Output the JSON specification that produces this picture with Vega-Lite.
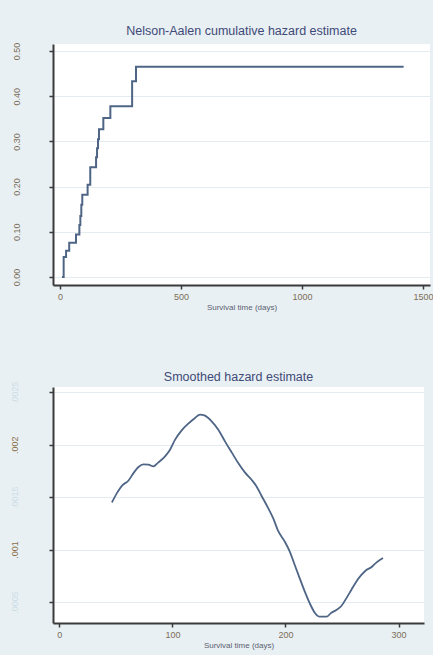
{
  "$schema": "https://vega.github.io/schema/vega-lite/v6.json",
  "background": "#e9f0f3",
  "padding": {"left": 9, "top": 24, "right": 0, "bottom": 6},
  "spacing": 60,
  "config": {
    "view": {"stroke": null, "fill": "white"},
    "font": "Liberation Sans",
    "axis": {
      "domainColor": "#3a3a3a",
      "domainWidth": 2,
      "tickColor": "#3a3a3a",
      "tickWidth": 1.5,
      "tickSize": 4,
      "labelColor": "#7a6e58",
      "labelFontSize": 9,
      "labelFlush": false,
      "titleFontSize": 8,
      "titleFontWeight": "normal",
      "titleColor": "#5a5e70",
      "gridColor": "#e2ecf1",
      "gridWidth": 1
    },
    "title": {"fontSize": 12.5, "fontWeight": "normal", "color": "#3e4a78", "offset": 5, "frame": "group"}
  },
  "vconcat": [
    {
      "title": "Nelson-Aalen cumulative hazard estimate",
      "width": 377,
      "height": 241,
      "data": {"values": [
        {"time": 8, "hazard": 0},
        {"time": 15, "hazard": 0.044},
        {"time": 25, "hazard": 0.058},
        {"time": 38, "hazard": 0.076},
        {"time": 66, "hazard": 0.094},
        {"time": 80, "hazard": 0.115},
        {"time": 84, "hazard": 0.135},
        {"time": 88, "hazard": 0.16},
        {"time": 92, "hazard": 0.182},
        {"time": 114, "hazard": 0.204},
        {"time": 125, "hazard": 0.243},
        {"time": 149, "hazard": 0.265},
        {"time": 153, "hazard": 0.285},
        {"time": 157, "hazard": 0.305},
        {"time": 161, "hazard": 0.327},
        {"time": 179, "hazard": 0.352},
        {"time": 208, "hazard": 0.378},
        {"time": 298, "hazard": 0.433},
        {"time": 314, "hazard": 0.465},
        {"time": 1420, "hazard": 0.465}
      ]},
      "mark": {"type": "line", "interpolate": "step-after", "color": "#4f6586", "strokeWidth": 2},
      "encoding": {
        "x": {
          "field": "time", "type": "quantitative",
          "scale": {"domain": [-29, 1529], "nice": false, "zero": false},
          "axis": {"values": [0, 500, 1000, 1500], "format": "d", "title": "Survival time (days)", "grid": false, "labelPadding": 3, "titlePadding": 2}
        },
        "y": {
          "field": "hazard", "type": "quantitative",
          "scale": {"domain": [-0.0177, 0.5155], "nice": false, "zero": false},
          "axis": {"values": [0, 0.1, 0.2, 0.3, 0.4, 0.5], "format": ".2f", "title": null, "labelAngle": 270, "labelAlign": "center", "labelBaseline": "bottom", "labelPadding": 28}
        }
      }
    },
    {
      "title": {"text": "Smoothed hazard estimate", "offset": -3},
      "width": 371,
      "height": 236,
      "data": {"values": [
        {"time": 46.5, "hazard": 0.001449},
        {"time": 50.9, "hazard": 0.001538},
        {"time": 55.3, "hazard": 0.001608},
        {"time": 61.2, "hazard": 0.001659},
        {"time": 65.6, "hazard": 0.001729},
        {"time": 70.0, "hazard": 0.001787},
        {"time": 74.4, "hazard": 0.001812},
        {"time": 78.8, "hazard": 0.001809},
        {"time": 83.2, "hazard": 0.001793},
        {"time": 87.6, "hazard": 0.001831},
        {"time": 93.5, "hazard": 0.001889},
        {"time": 97.9, "hazard": 0.001952},
        {"time": 102.4, "hazard": 0.002048},
        {"time": 108.2, "hazard": 0.002137},
        {"time": 114.1, "hazard": 0.002201},
        {"time": 120.0, "hazard": 0.002255},
        {"time": 124.4, "hazard": 0.002287},
        {"time": 128.8, "hazard": 0.002277},
        {"time": 134.7, "hazard": 0.002223},
        {"time": 140.6, "hazard": 0.002143},
        {"time": 146.5, "hazard": 0.002032},
        {"time": 152.4, "hazard": 0.001927},
        {"time": 158.2, "hazard": 0.001825},
        {"time": 164.1, "hazard": 0.001736},
        {"time": 170.0, "hazard": 0.001666},
        {"time": 174.4, "hazard": 0.001602},
        {"time": 178.8, "hazard": 0.001513},
        {"time": 184.7, "hazard": 0.001395},
        {"time": 189.1, "hazard": 0.001299},
        {"time": 193.5, "hazard": 0.001178},
        {"time": 199.4, "hazard": 0.001076},
        {"time": 203.8, "hazard": 0.000981},
        {"time": 208.2, "hazard": 0.000853},
        {"time": 212.6, "hazard": 0.000726},
        {"time": 217.1, "hazard": 0.000599},
        {"time": 221.5, "hazard": 0.000487},
        {"time": 225.9, "hazard": 0.000398},
        {"time": 230.3, "hazard": 0.00036},
        {"time": 236.2, "hazard": 0.00036},
        {"time": 240.6, "hazard": 0.000398},
        {"time": 245.0, "hazard": 0.000424},
        {"time": 249.4, "hazard": 0.000462},
        {"time": 253.8, "hazard": 0.000535},
        {"time": 258.2, "hazard": 0.000615},
        {"time": 262.6, "hazard": 0.000694},
        {"time": 267.1, "hazard": 0.000758},
        {"time": 271.5, "hazard": 0.000806},
        {"time": 275.9, "hazard": 0.000831},
        {"time": 280.3, "hazard": 0.000876},
        {"time": 286.2, "hazard": 0.00092}
      ]},
      "mark": {"type": "line", "interpolate": "monotone", "color": "#4f6586", "strokeWidth": 1.8},
      "encoding": {
        "x": {
          "field": "time", "type": "quantitative",
          "scale": {"domain": [-5.6, 322.5], "nice": false, "zero": false},
          "axis": {"values": [0, 100, 200, 300], "format": "d", "title": "Survival time (days)", "grid": false, "labelPadding": 3, "titlePadding": 2}
        },
        "y": {
          "field": "hazard", "type": "quantitative",
          "scale": {"domain": [0.0003, 0.00255], "nice": false, "zero": false},
          "axis": {
            "values": [0.0005, 0.001, 0.0015, 0.002, 0.0025],
            "labelExpr": "abs(datum.value-0.001)<1e-7 ? '.001' : abs(datum.value-0.002)<1e-7 ? '.002' : replace(format(datum.value, '.4f'), '0.', '.')",
            "labelColor": {"condition": {"test": "abs(datum.value-0.001)<1e-7 || abs(datum.value-0.002)<1e-7", "value": "#8a6e48"}, "value": "#c9dde8"},
            "title": null, "labelAngle": 270, "labelAlign": "center", "labelBaseline": "bottom", "labelPadding": 30
          }
        }
      }
    }
  ]
}
